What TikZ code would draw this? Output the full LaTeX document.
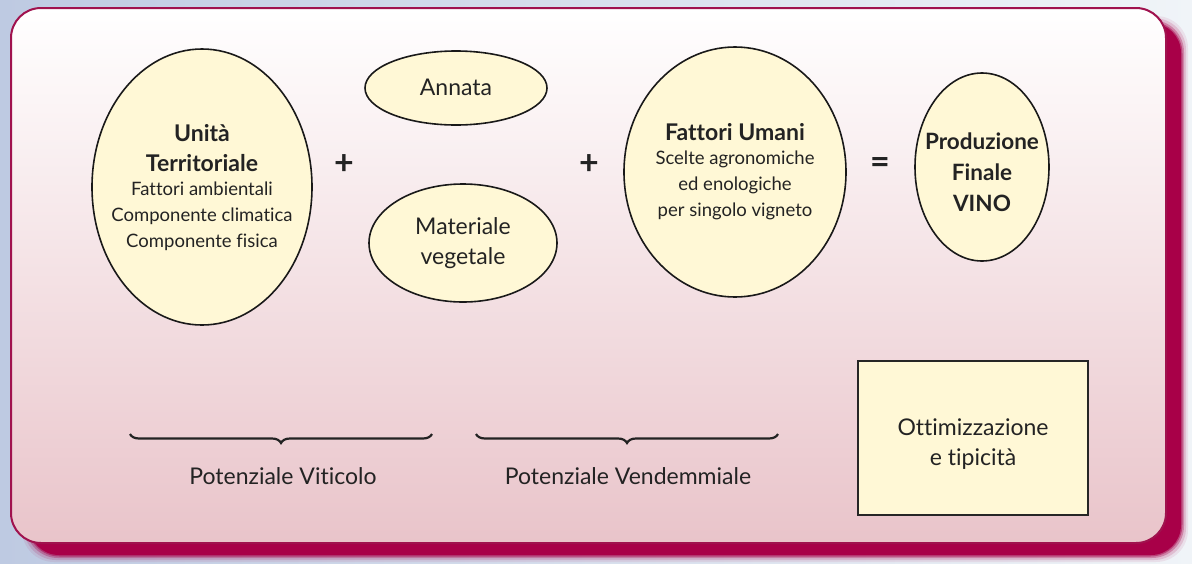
\documentclass[tikz,border=0pt]{standalone}
\usepackage{fontspec}
\setmainfont{Lato}[Ligatures={NoCommon,NoContextual}]
\usetikzlibrary{shapes.geometric,decorations.pathreplacing}
\definecolor{crim}{RGB}{168,0,72}
\definecolor{crimline}{RGB}{160,18,78}
\definecolor{cream}{RGB}{255,248,214}
\definecolor{ink}{RGB}{35,35,35}
\definecolor{bgblue}{RGB}{190,202,226}
\definecolor{bgwhite}{RGB}{240,244,248}
\definecolor{pinkmid}{RGB}{248,237,240}
\definecolor{pinkbot}{RGB}{233,196,202}
\begin{document}
\begin{tikzpicture}[x=1pt,y=-1pt,
  elli/.style={ellipse,draw=black!90,line width=1.6pt,fill=cream,inner sep=0pt},
  boxed/.style={rectangle,draw=black!85,line width=1.8pt,fill=cream,inner sep=0pt},
  titletxt/.style={align=center,text=ink,font=\bfseries\fontsize{23}{30}\selectfont},
  bodytxt/.style={align=center,text=ink,font=\fontsize{18.5}{26}\selectfont},
  bigtxt/.style={align=center,text=ink,font=\fontsize{23}{30}\selectfont},
  optxt/.style={text=ink,font=\bfseries\fontsize{34}{34}\selectfont},
  bracestyle/.style={decorate,decoration={brace,amplitude=9pt},line width=2.2pt,draw=ink}]
\useasboundingbox (0,0) rectangle (1192,563);
% background
\shade[left color=bgblue,right color=bgwhite] (0,0) rectangle (1192,563);
% shadow
\foreach \o/\a in {7/0.08,5/0.15,3/0.3,1.5/0.5}
  \fill[crim,opacity=\a,rounded corners=32pt] (29-\o,23-\o) rectangle (1181+\o,555+\o);
\fill[crim,rounded corners=30pt] (29,23) rectangle (1181,555);
% panel
\draw[draw=crimline,line width=2pt,rounded corners=30pt,top color=white,middle color=pinkmid,bottom color=pinkbot] (11,8) rectangle (1166,543);

% nodes
\node[elli,minimum width=220pt,minimum height=276pt] (unita) at (202,187) {};
\node[titletxt] (unitaT) at (202,148) {Unità\\Territoriale};
\node[bodytxt] (unitaB) at (202,216) {Fattori ambientali\\Componente climatica\\Componente fisica};

\node[elli,minimum width=182pt,minimum height=74pt] (annata) at (456,88) {};
\node[bigtxt] (annataT) at (456,87) {Annata};

\node[elli,minimum width=188pt,minimum height=118pt] (mat) at (463,243) {};
\node[bigtxt] (matT) at (463,243) {Materiale\\vegetale};

\node[elli,minimum width=222pt,minimum height=250pt] (umani) at (735,172) {};
\node[titletxt] (umaniT) at (735,132) {Fattori Umani};
\node[bodytxt] (umaniB) at (735,185) {Scelte agronomiche\\ed enologiche\\per singolo vigneto};

\node[elli,minimum width=134pt,minimum height=188pt] (prod) at (982,167) {};
\node[titletxt,font=\bfseries\fontsize{22.5}{31}\selectfont] (prodT) at (982,172) {Produzione\\Finale\\VINO};

\node[boxed,minimum width=230pt,minimum height=154pt] (ott) at (973,438) {};
\node[bigtxt] (ottT) at (973,444) {Ottimizzazione\\e tipicità};

% operators
\node[optxt] (plus1) at (344,165) {+};
\node[optxt] (plus2) at (589,165) {+};
\node[optxt] (eq) at (880,166) {=};

% braces
\coordinate (b1r) at (432,434);
\coordinate (b1l) at (130,434);
\coordinate (b2r) at (778,434);
\coordinate (b2l) at (476,434);
\draw[bracestyle] (b1r) -- (b1l);
\draw[bracestyle] (b2r) -- (b2l);
\node[bigtxt] (pv) at (283,476) {Potenziale Viticolo};
\node[bigtxt] (pve) at (628,476) {Potenziale Vendemmiale};
\end{tikzpicture}
\end{document}
